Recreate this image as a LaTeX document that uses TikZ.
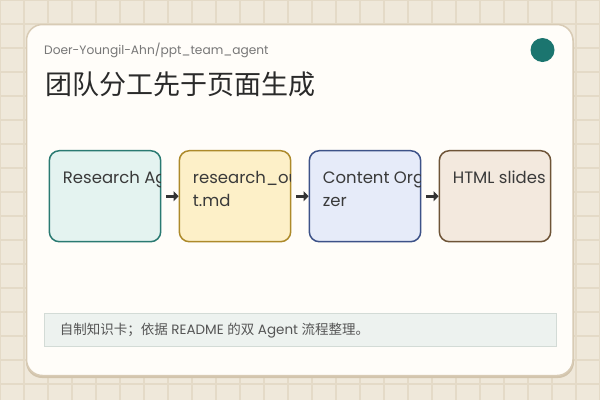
\documentclass[tikz,border=0pt]{standalone}
\usepackage{fontspec}
\setmainfont{Poppins}
\newfontfamily\cjk{Noto Sans CJK SC}
\usetikzlibrary{arrows.meta}
\definecolor{bgc}{HTML}{EFE8DA}
\definecolor{gridc}{HTML}{E4DAC7}
\definecolor{cardc}{HTML}{FFFDF9}
\definecolor{cardline}{HTML}{D8CBB5}
\definecolor{shadowc}{HTML}{D2C4AC}
\definecolor{dotc}{HTML}{1B756F}
\definecolor{f1}{HTML}{E4F3F0}\definecolor{d1}{HTML}{2A7A72}
\definecolor{f2}{HTML}{FDF0C8}\definecolor{d2}{HTML}{AD8A2A}
\definecolor{f3}{HTML}{E6EBF9}\definecolor{d3}{HTML}{3D5288}
\definecolor{f4}{HTML}{F3E9DE}\definecolor{d4}{HTML}{6E5437}
\definecolor{txt}{HTML}{3A3A3A}
\definecolor{subtxt}{HTML}{777777}
\definecolor{titletxt}{HTML}{2A2A2A}
\definecolor{footfill}{HTML}{EDF2EF}
\definecolor{footline}{HTML}{D3DBD6}
\definecolor{foottxt}{HTML}{555555}
\definecolor{arr}{HTML}{333333}
\tikzset{
  stepbox/.style={draw=#1, line width=1.5pt, rounded corners=10pt, minimum width=111.4pt, minimum height=91pt, inner sep=0pt},
  boxtext/.style={anchor=base west, inner sep=0pt, text=txt, font=\fontsize{16.5}{19}\selectfont},
  conn/.style={draw=arr, line width=3pt, -{Triangle[length=5pt,width=10pt]}, shorten <=5pt},
}
\begin{document}
\begin{tikzpicture}[x=1pt,y=-1pt]
\useasboundingbox (0,0) rectangle (600,400);
\fill[bgc] (0,0) rectangle (600,400);
\foreach \i in {0,24,...,600} \draw[gridc, line width=1.2pt] (\i,0) -- (\i,400);
\foreach \j in {0,24,...,408} \draw[gridc, line width=1.2pt] (0,\j) -- (600,\j);
% card
\fill[shadowc, rounded corners=16pt] (26,27) rectangle (574,378);
\draw[cardline, fill=cardc, line width=1.5pt, rounded corners=16pt] (26.5,24.5) rectangle (573,375.5);
% header
\node[anchor=base west, inner sep=0pt, text=subtxt, font=\fontsize{12.2}{15}\selectfont] (repo) at (44,54) {Doer-Youngil-Ahn/ppt\_team\_agent};
\node[anchor=base west, inner sep=0pt, text=titletxt, font=\cjk\fontsize{27}{32}\selectfont] (title) at (45,94) {团队分工先于页面生成};
\node[circle, fill=dotc, minimum size=24pt, inner sep=0pt] (dot) at (542.5,50) {};
% boxes
\node[stepbox=d1, fill=f1] (b1) at (105,196.2) {};
\node[stepbox=d2, fill=f2] (b2) at (235,196.2) {};
\node[stepbox=d3, fill=f3] (b3) at (365,196.2) {};
\node[stepbox=d4, fill=f4] (b4) at (495,196.2) {};
\begin{scope}
\clip (49.3,150.7) rectangle (160.7,241.7);
\node[boxtext] (t1) at (62.7,183.5) {Research Ag};
\end{scope}
\begin{scope}
\clip (179.3,150.7) rectangle (290.7,241.7);
\node[boxtext] (t2) at (192.7,183.5) {research\_out};
\node[boxtext] (t2b) at (192.7,206.5) {t.md};
\end{scope}
\begin{scope}
\clip (309.3,150.7) rectangle (420.7,241.7);
\node[boxtext] (t3) at (322.7,183.5) {Content Org};
\node[boxtext] (t3b) at (322.7,206.5) {zer};
\end{scope}
\begin{scope}
\clip (439.3,150.7) rectangle (550.7,241.7);
\node[boxtext] (t4) at (452.7,183.5) {HTML slides};
\end{scope}
% connectors
\draw[conn] (b1.east) -- (b2.west);
\draw[conn] (b2.east) -- (b3.west);
\draw[conn] (b3.east) -- (b4.west);
% footer
\node[draw=footline, fill=footfill, line width=1pt, minimum width=512pt, minimum height=33pt, inner sep=0pt] (foot) at (300.5,329.5) {};
\node[anchor=base west, inner sep=0pt, text=foottxt, font=\fontsize{13.5}{15}\selectfont] (foottext) at (59.6,334.5) {{\cjk 自制知识卡；依据} README {\cjk 的双} Agent {\cjk 流程整理。}};
\end{tikzpicture}
\end{document}
